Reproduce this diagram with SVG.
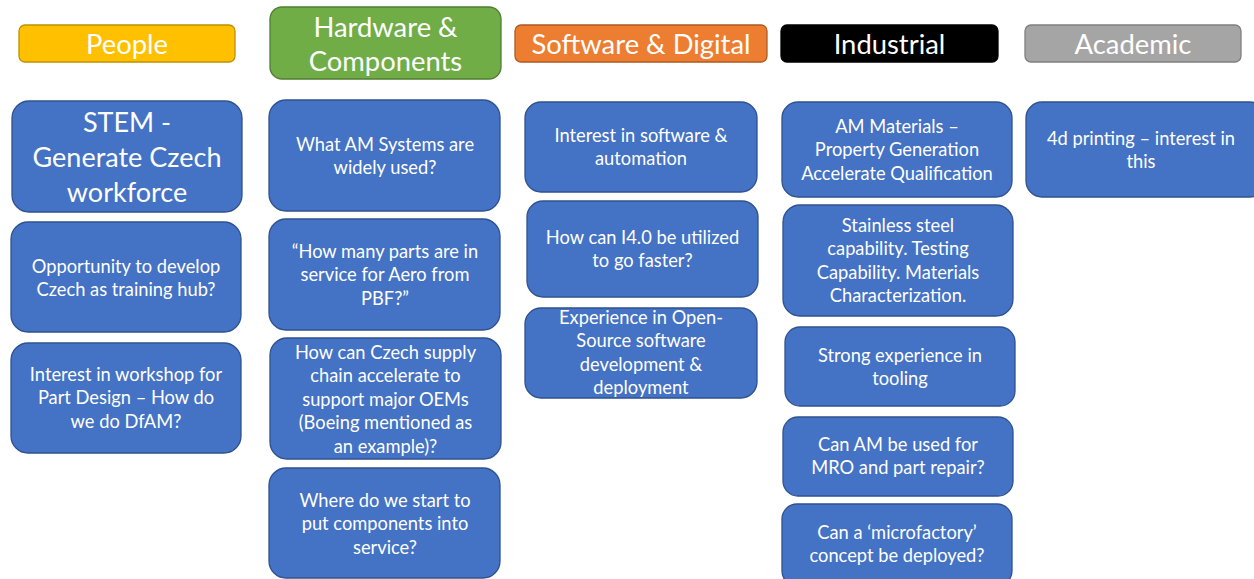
<svg xmlns="http://www.w3.org/2000/svg" width="1254" height="579" viewBox="0 0 1254 579">
<style>
.b{fill:#4472C4;stroke:#2F528F;stroke-width:1.3}
.t{font-family:Lato,"Open Sans",sans-serif;font-size:18.3px;fill:#fff;text-anchor:middle}
.h{font-family:Lato,"Open Sans",sans-serif;font-size:27.4px;fill:#fff;text-anchor:middle}
.s{font-family:Lato,"Open Sans",sans-serif;font-size:27px;fill:#fff;text-anchor:middle}
</style>
<rect width="1254" height="579" fill="#fff"/>
<g id="hdr-people"><rect x="19" y="25" width="216" height="37" rx="6" fill="#FFC000" stroke="#BF9000" stroke-width="1.3"/><text class="h" x="127" y="53.5">People</text></g>
<g id="hdr-hardware"><rect x="270" y="7" width="231" height="72" rx="12" fill="#70AD47" stroke="#507E32" stroke-width="1.3"/><text class="h" x="385.5" y="36.5">Hardware &amp;</text><text class="h" x="385.5" y="70.5">Components</text></g>
<g id="hdr-software"><rect x="515" y="25" width="252" height="37" rx="6" fill="#ED7D31" stroke="#AE5A21" stroke-width="1.3"/><text class="h" x="641" y="53.5">Software &amp; Digital</text></g>
<g id="hdr-industrial"><rect x="781" y="25" width="217" height="37" rx="6" fill="#000" stroke="#000" stroke-width="1.3"/><text class="h" x="889.5" y="53.5">Industrial</text></g>
<g id="hdr-academic"><rect x="1025" y="25" width="216" height="37" rx="6" fill="#A5A5A5" stroke="#7F7F7F" stroke-width="1.3"/><text class="h" x="1133" y="53.5">Academic</text></g>

<g id="p1"><rect class="b" x="12" y="101" width="230" height="111" rx="17"/><text class="s" x="127" y="131.5">STEM -</text><text class="s" x="127" y="166.5">Generate Czech</text><text class="s" x="127" y="201.5">workforce</text></g>
<g id="p2"><rect class="b" x="11" y="222" width="230" height="110" rx="17"/><text class="t" x="126" y="272.5">Opportunity to develop</text><text class="t" x="126" y="295.5">Czech as training hub?</text></g>
<g id="p3"><rect class="b" x="11" y="343" width="230" height="110" rx="17"/><text class="t" x="126" y="380.5">Interest in workshop for</text><text class="t" x="126" y="404">Part Design – How do</text><text class="t" x="126" y="427.5">we do DfAM?</text></g>

<g id="h1"><rect class="b" x="269" y="100" width="231" height="111" rx="17"/><text class="t" x="385" y="150.5">What AM Systems are</text><text class="t" x="385" y="174">widely used?</text></g>
<g id="h2"><rect class="b" x="269" y="219" width="231" height="111" rx="17"/><text class="t" x="385" y="257.5">“How many parts are in</text><text class="t" x="385" y="281">service for Aero from</text><text class="t" x="385" y="304.5">PBF?”</text></g>
<g id="h3"><rect class="b" x="270" y="338" width="231" height="121" rx="17"/><text class="t" x="385.5" y="358.5">How can Czech supply</text><text class="t" x="385.5" y="382">chain accelerate to</text><text class="t" x="385.5" y="405.5">support major OEMs</text><text class="t" x="385.5" y="429">(Boeing mentioned as</text><text class="t" x="385.5" y="452.5">an example)?</text></g>
<g id="h4"><rect class="b" x="269" y="468" width="231" height="110" rx="17"/><text class="t" x="385" y="506.5">Where do we start to</text><text class="t" x="385" y="530">put components into</text><text class="t" x="385" y="553.5">service?</text></g>

<g id="s1"><rect class="b" x="525" y="102" width="232" height="90" rx="16"/><text class="t" x="641" y="141.5">Interest in software &amp;</text><text class="t" x="641" y="165">automation</text></g>
<g id="s2"><rect class="b" x="527" y="201" width="231" height="96" rx="16"/><text class="t" x="642.5" y="243.5">How can I4.0 be utilized</text><text class="t" x="642.5" y="267">to go faster?</text></g>
<g id="s3"><rect class="b" x="525" y="308" width="232" height="90" rx="16"/><text class="t" x="641" y="323.5">Experience in Open-</text><text class="t" x="641" y="347">Source software</text><text class="t" x="641" y="370.5">development &amp;</text><text class="t" x="641" y="394">deployment</text></g>

<g id="i1"><rect class="b" x="782" y="102" width="230" height="95" rx="16"/><text class="t" x="897" y="132.5">AM Materials –</text><text class="t" x="897" y="156">Property Generation</text><text class="t" x="897" y="179.5">Accelerate Qualification</text></g>
<g id="i2"><rect class="b" x="783" y="205" width="230" height="111" rx="17"/><text class="t" x="898" y="231.5">Stainless steel</text><text class="t" x="898" y="255">capability. Testing</text><text class="t" x="898" y="278.5">Capability. Materials</text><text class="t" x="898" y="302">Characterization.</text></g>
<g id="i3"><rect class="b" x="785" y="327" width="230" height="79" rx="15"/><text class="t" x="900" y="361.5">Strong experience in</text><text class="t" x="900" y="385">tooling</text></g>
<g id="i4"><rect class="b" x="783" y="417" width="230" height="79" rx="15"/><text class="t" x="898" y="450.5">Can AM be used for</text><text class="t" x="898" y="474">MRO and part repair?</text></g>
<g id="i5"><rect class="b" x="782" y="504" width="230" height="82" rx="15"/><text class="t" x="897" y="538.5">Can a ‘microfactory’</text><text class="t" x="897" y="562">concept be deployed?</text></g>

<g id="a1"><rect class="b" x="1026" y="102" width="240" height="95" rx="16"/><text class="t" x="1141" y="144.5">4d printing – interest in</text><text class="t" x="1141" y="168">this</text></g>
<g id="connectors"></g>
</svg>
